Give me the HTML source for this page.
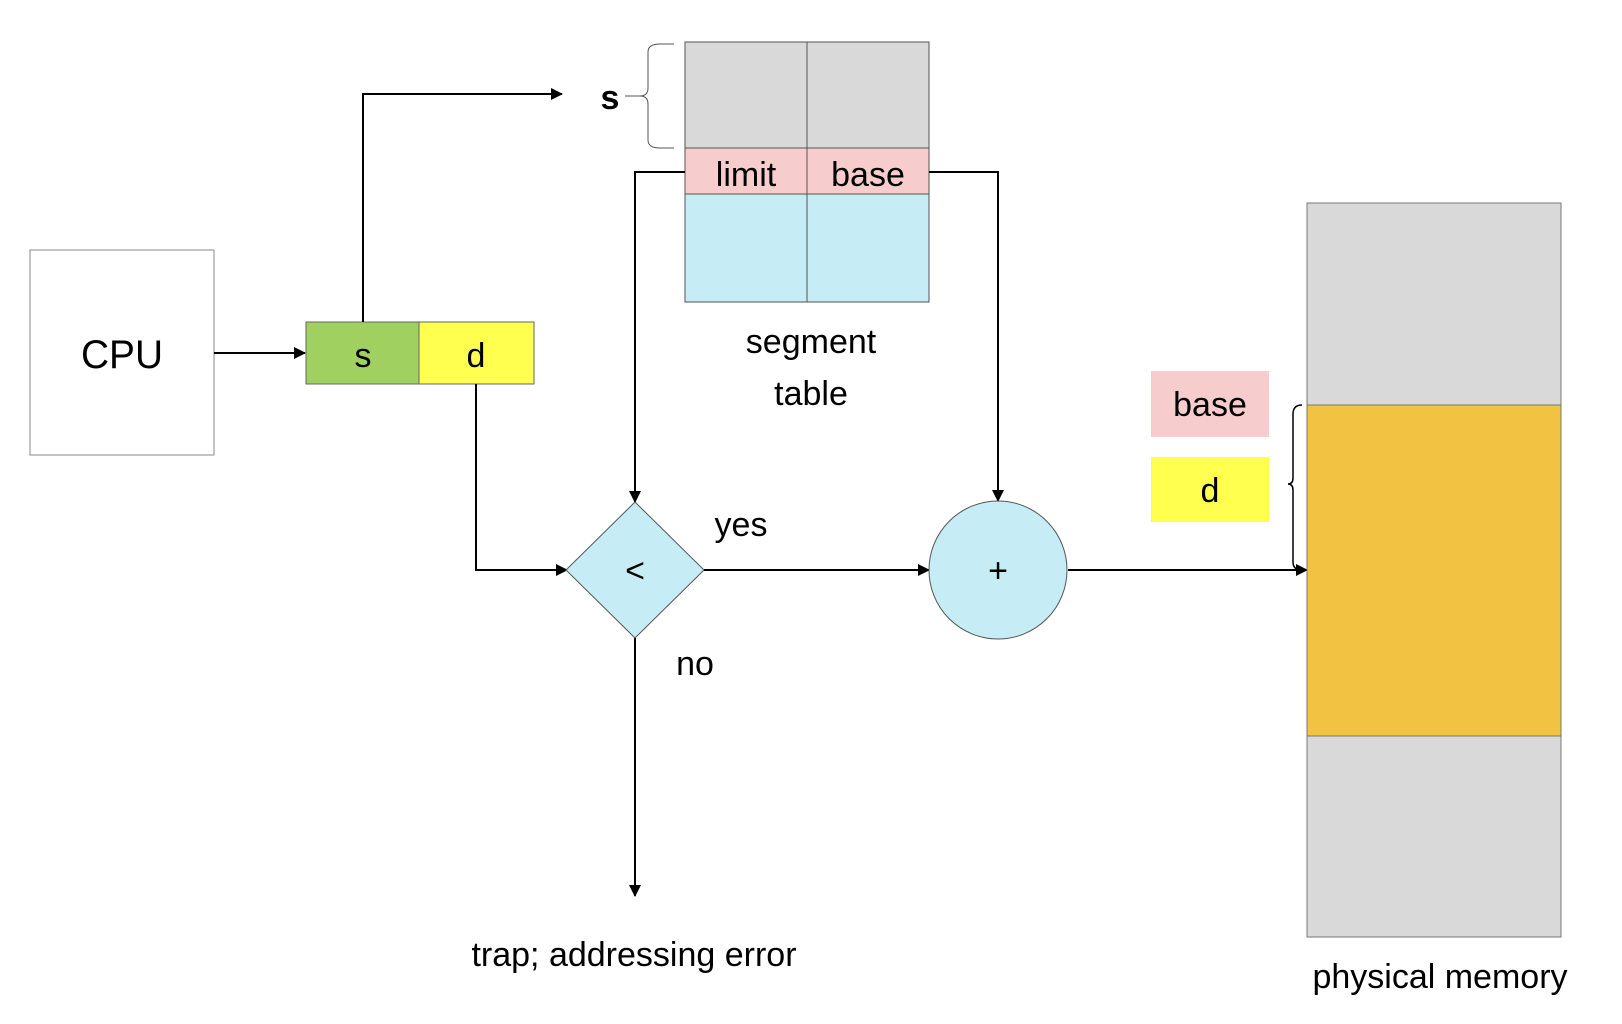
<!DOCTYPE html>
<html><head><meta charset="utf-8"><style>
html,body{margin:0;padding:0;background:#fff;}
svg{display:block;}
text{font-family:"Liberation Sans",sans-serif;fill:#000;}
</style></head><body>
<svg width="1622" height="1024" viewBox="0 0 1622 1024" xmlns="http://www.w3.org/2000/svg">
<defs>
<marker id="a" markerWidth="12" markerHeight="12" refX="11" refY="6" orient="auto" markerUnits="userSpaceOnUse">
<path d="M0,0 L12,6 L0,12 z" fill="#000"/></marker>
</defs>
<!-- CPU -->
<rect x="30" y="250" width="184" height="205" fill="#fff" stroke="#888" stroke-width="1"/>
<text x="122" y="368" font-size="40" text-anchor="middle" textLength="82" lengthAdjust="spacingAndGlyphs">CPU</text>
<line x1="214" y1="353" x2="305" y2="353" stroke="#000" stroke-width="2" marker-end="url(#a)"/>
<!-- s d -->
<rect x="306" y="322" width="113" height="62" fill="#a0d060" stroke="#666"/>
<rect x="419" y="322" width="115" height="62" fill="#ffff50" stroke="#666"/>
<text x="363" y="367" font-size="34" text-anchor="middle">s</text>
<text x="476" y="367" font-size="34" text-anchor="middle">d</text>
<!-- s up arrow -->
<polyline points="363,322 363,94 562,94" fill="none" stroke="#000" stroke-width="2" marker-end="url(#a)"/>
<text x="610" y="109" font-size="34" text-anchor="middle" font-weight="bold">s</text>
<path d="M625,96 L640,96 Q648,96 648,88 L648,52 Q648,44 660,44 L674,44 M640,96 Q648,96 648,104 L648,140 Q648,148 660,148 L674,148" fill="none" stroke="#555" stroke-width="1"/>
<!-- segment table -->
<rect x="685" y="42" width="244" height="106" fill="#d9d9d9" stroke="#555"/>
<rect x="685" y="148" width="244" height="46" fill="#f6cccc" stroke="#555"/>
<rect x="685" y="194" width="244" height="108" fill="#c6ecf6" stroke="#555"/>
<line x1="807" y1="42" x2="807" y2="302" stroke="#555"/>
<text x="746" y="186" font-size="34" text-anchor="middle">limit</text>
<text x="868" y="186" font-size="34" text-anchor="middle">base</text>
<text x="811" y="353" font-size="34" text-anchor="middle">segment</text>
<text x="811" y="405" font-size="34" text-anchor="middle">table</text>
<!-- limit line -->
<polyline points="685,172 635,172 635,502" fill="none" stroke="#000" stroke-width="2" marker-end="url(#a)"/>
<!-- base line -->
<polyline points="929,172 998,172 998,501" fill="none" stroke="#000" stroke-width="2" marker-end="url(#a)"/>
<!-- d line -->
<polyline points="476,384 476,570 567,570" fill="none" stroke="#000" stroke-width="2" marker-end="url(#a)"/>
<!-- diamond -->
<polygon points="635,502 704,570 635,638 566,570" fill="#c6ecf6" stroke="#555"/>
<text x="635" y="582" font-size="34" text-anchor="middle">&lt;</text>
<text x="741" y="536" font-size="34" text-anchor="middle">yes</text>
<line x1="704" y1="570" x2="929" y2="570" stroke="#000" stroke-width="2" marker-end="url(#a)"/>
<text x="695" y="675" font-size="34" text-anchor="middle">no</text>
<line x1="635" y1="638" x2="635" y2="896" stroke="#000" stroke-width="2" marker-end="url(#a)"/>
<text x="634" y="966" font-size="34" text-anchor="middle">trap; addressing error</text>
<!-- circle -->
<circle cx="998" cy="570" r="69" fill="#c6ecf6" stroke="#555"/>
<text x="998" y="582" font-size="34" text-anchor="middle">+</text>
<line x1="1068" y1="570" x2="1307" y2="570" stroke="#000" stroke-width="2" marker-end="url(#a)"/>
<!-- memory -->
<rect x="1307" y="203" width="254" height="734" fill="#d9d9d9" stroke="#777"/>
<rect x="1307" y="405" width="254" height="331" fill="#f2c242" stroke="#777"/>
<text x="1440" y="988" font-size="34" text-anchor="middle">physical memory</text>
<rect x="1151" y="371" width="118" height="66" fill="#f6cccc"/>
<text x="1210" y="416" font-size="34" text-anchor="middle">base</text>
<rect x="1151" y="457" width="118" height="65" fill="#ffff50"/>
<text x="1210" y="502" font-size="34" text-anchor="middle">d</text>
<path d="M1302,405 Q1293,405 1293,414 L1293,478 Q1293,484 1288,484 Q1293,484 1293,490 L1293,562 Q1293,570 1302,570" fill="none" stroke="#000" stroke-width="1.5"/>
</svg>
</body></html>
